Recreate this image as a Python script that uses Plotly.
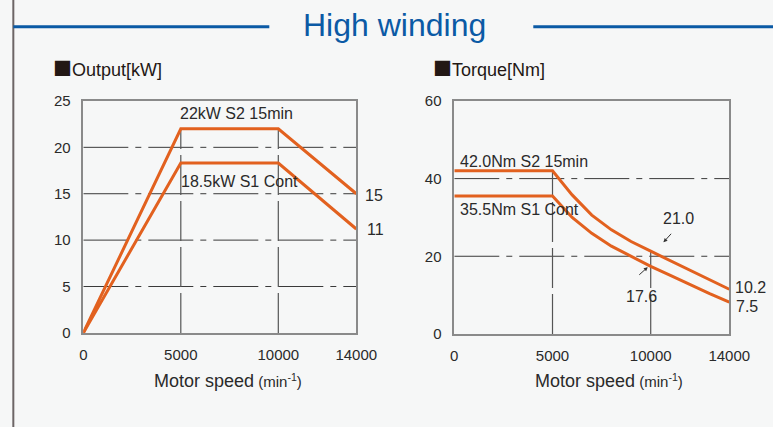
import plotly.graph_objects as go

# ---- data ----
speed_out = [0, 5000, 10000, 14000]
output_s2 = [0, 22.0, 22.0, 15.0]
output_s1 = [0, 18.3, 18.3, 11.2]

speed_tq = [0, 5000, 6000, 7000, 8000, 9000, 10000, 11000, 12000, 13000, 14000]
torque_s2 = [42.0, 42.0, 35.8, 30.6, 26.8, 23.8, 21.3, 18.8, 16.3, 13.9, 11.5]
torque_s1 = [35.5, 35.5, 30.0, 25.9, 22.6, 19.9, 17.4, 15.1, 12.7, 10.4, 8.2]

x_ticks = [0, 5000, 10000, 14000]
out_yticks = [0, 5, 10, 15, 20, 25]
tq_yticks = [0, 20, 40, 60]
out_grid = [5, 10, 15, 20]
tq_grid = [20, 40]
knee_speeds = [5000, 10000]

ORANGE = "#e2611f"
BLUE = "#0b5aa5"
GRID = "#3a3a3a"
TXT = "#2a2a2a"
BG = "#f6f7f7"
FONT = "Liberation Sans, Arial, sans-serif"

# the drawn figure occupies about 752x412 px, offset (4.3, 6.6) in the picture
OX, OY, PW, PH = 4.3, 6.6, 751.5, 412.0

def px_x(p):
    p = (p + 1.6) / 0.9954
    return (p - OX) / PW

def px_y(p):
    p = (p - 2.9) / 0.991
    return 1 - (p - OY) / PH

fig = go.Figure()
line_style = dict(color=ORANGE, width=3)
fig.add_trace(go.Scatter(x=speed_out, y=output_s2, mode="lines", line=line_style,
                         xaxis="x", yaxis="y", cliponaxis=False, showlegend=False))
fig.add_trace(go.Scatter(x=speed_out, y=output_s1, mode="lines", line=line_style,
                         xaxis="x", yaxis="y", cliponaxis=False, showlegend=False))
fig.add_trace(go.Scatter(x=speed_tq, y=torque_s2, mode="lines", line=line_style,
                         xaxis="x2", yaxis="y2", cliponaxis=False, showlegend=False))
fig.add_trace(go.Scatter(x=speed_tq, y=torque_s1, mode="lines", line=line_style,
                         xaxis="x2", yaxis="y2", cliponaxis=False, showlegend=False))

axis_common = dict(showgrid=False, zeroline=False, showline=True, mirror=True,
                   linecolor="#8a8a8a", linewidth=1.5, ticks="",
                   tickfont=dict(size=15, color=TXT, family=FONT), fixedrange=True)

fig.update_layout(
    autosize=True,
    margin=dict(l=0, r=0, t=0, b=0),
    paper_bgcolor=BG, plot_bgcolor=BG,
    font=dict(family=FONT, color=TXT),
    xaxis=dict(domain=[px_x(82), px_x(355)], range=[0, 14000], anchor="y",
               tickvals=x_ticks, ticktext=[str(v) for v in x_ticks], ticklabelstandoff=7, **axis_common),
    yaxis=dict(domain=[px_y(332), px_y(101)], range=[0, 25], anchor="x",
               tickvals=out_yticks, ticklabelstandoff=8, **axis_common),
    xaxis2=dict(domain=[px_x(453), px_x(728)], range=[0, 14000], anchor="y2",
                tickvals=x_ticks, ticktext=[str(v) for v in x_ticks], ticklabelstandoff=7, **axis_common),
    yaxis2=dict(domain=[px_y(333), px_y(101)], range=[0, 60], anchor="x2",
                tickvals=tq_yticks, ticklabelstandoff=8, **axis_common),
)

shapes = []
dashdot = "45px,7px,6px,7px"
for g in out_grid:
    shapes.append(dict(type="line", xref="x", yref="y", x0=0, x1=14000, y0=g, y1=g,
                       line=dict(color=GRID, width=1, dash=dashdot), layer="below"))
for g in tq_grid:
    shapes.append(dict(type="line", xref="x2", yref="y2", x0=0, x1=14000, y0=g, y1=g,
                       line=dict(color=GRID, width=1, dash=dashdot), layer="below"))
for k in knee_speeds:
    top_out = output_s2[speed_out.index(k)]
    shapes.append(dict(type="line", xref="x", yref="y", x0=k, x1=k, y0=0, y1=top_out,
                       line=dict(color="#555555", width=1.2, dash="40px,6px"), layer="below"))
    top_tq = torque_s2[speed_tq.index(k)]
    shapes.append(dict(type="line", xref="x2", yref="y2", x0=k, x1=k, y0=0, y1=top_tq,
                       line=dict(color="#555555", width=1.2, dash="40px,6px"), layer="below"))

# decorative frame elements
shapes.append(dict(type="line", xref="paper", yref="paper", x0=px_x(12), x1=px_x(12),
                   y0=px_y(440), y1=px_y(-5), line=dict(color="#6d6566", width=2)))
shapes.append(dict(type="line", xref="paper", yref="paper", x0=px_x(12), x1=px_x(268),
                   y0=px_y(27), y1=px_y(27), line=dict(color=BLUE, width=3)))
shapes.append(dict(type="line", xref="paper", yref="paper", x0=px_x(532), x1=px_x(780),
                   y0=px_y(27), y1=px_y(27), line=dict(color=BLUE, width=3)))
fig.update_layout(shapes=shapes)

ann = []
ann.append(dict(text="High winding", xref="paper", yref="paper", x=px_x(393), y=px_y(25),
                showarrow=False, font=dict(size=32, color=BLUE, family=FONT),
                xanchor="center", yanchor="middle"))
sq = "<span style='font-family:Noto Sans CJK JP;font-size:19px'>■</span>"
ann.append(dict(text=sq + "Output[kW]", xref="paper", yref="paper", x=px_x(50), y=px_y(68),
                showarrow=False, font=dict(size=18, color="#231815"), xanchor="left", yanchor="middle"))
ann.append(dict(text=sq + "Torque[Nm]", xref="paper", yref="paper", x=px_x(430), y=px_y(68),
                showarrow=False, font=dict(size=18, color="#231815"), xanchor="left", yanchor="middle"))
xt = "Motor speed<span style='font-size:15px'> (min<sup>-1</sup>)</span>"
ann.append(dict(text=xt, xref="paper", yref="paper", x=px_x(227), y=px_y(380),
                showarrow=False, font=dict(size=18, color=TXT), xanchor="center", yanchor="middle"))
ann.append(dict(text=xt, xref="paper", yref="paper", x=px_x(608), y=px_y(380),
                showarrow=False, font=dict(size=18, color=TXT), xanchor="center", yanchor="middle"))

lab = dict(size=16, color=TXT)
left_labels = [("22kW S2 15min", 4870, 23.6, 0), ("18.5kW S1 Cont", 4920, 16.3, 0),
               ("15", 14000, 14.8, 7), ("11", 14000, 11.1, 9)]
for t, x, y, s in left_labels:
    ann.append(dict(text=t, xref="x", yref="y", x=x, y=y, xshift=s, showarrow=False, font=lab,
                    xanchor="left", yanchor="middle"))
right_labels = [("42.0Nm S2 15min", 200, 44.5, 0), ("35.5Nm S1 Cont", 200, 32.1, 0),
                ("21.0", 10540, 29.7, 0), ("17.6", 8650, 9.6, 0),
                ("10.2", 14000, 11.9, 4), ("7.5", 14000, 7.0, 5)]
for t, x, y, s in right_labels:
    ann.append(dict(text=t, xref="x2", yref="y2", x=x, y=y, xshift=s, showarrow=False, font=lab,
                    xanchor="left", yanchor="middle"))
# small arrows
ann.append(dict(text="", xref="x2", yref="y2", x=10650, y=23.6, ax=9, ay=-10, showarrow=True,
                arrowhead=2, arrowsize=0.8, arrowwidth=1, arrowcolor="#333333"))
ann.append(dict(text="", xref="x2", yref="y2", x=9850, y=17.2, ax=-10, ay=9, showarrow=True,
                arrowhead=2, arrowsize=0.8, arrowwidth=1, arrowcolor="#333333"))
fig.update_layout(annotations=ann)

fig.write_html("out.html", default_width="100vw", default_height="100vh",
               config=dict(displayModeBar=False, responsive=True),
               post_script="document.documentElement.style.margin='0';document.body.style.margin='0';"
                           "document.documentElement.style.background='" + BG + "';"
                           "document.body.style.background='" + BG + "';"
                           "document.body.style.overflow='hidden';"
                           "document.querySelectorAll('.main-svg').forEach(function(s){s.style.overflow='visible';});")
